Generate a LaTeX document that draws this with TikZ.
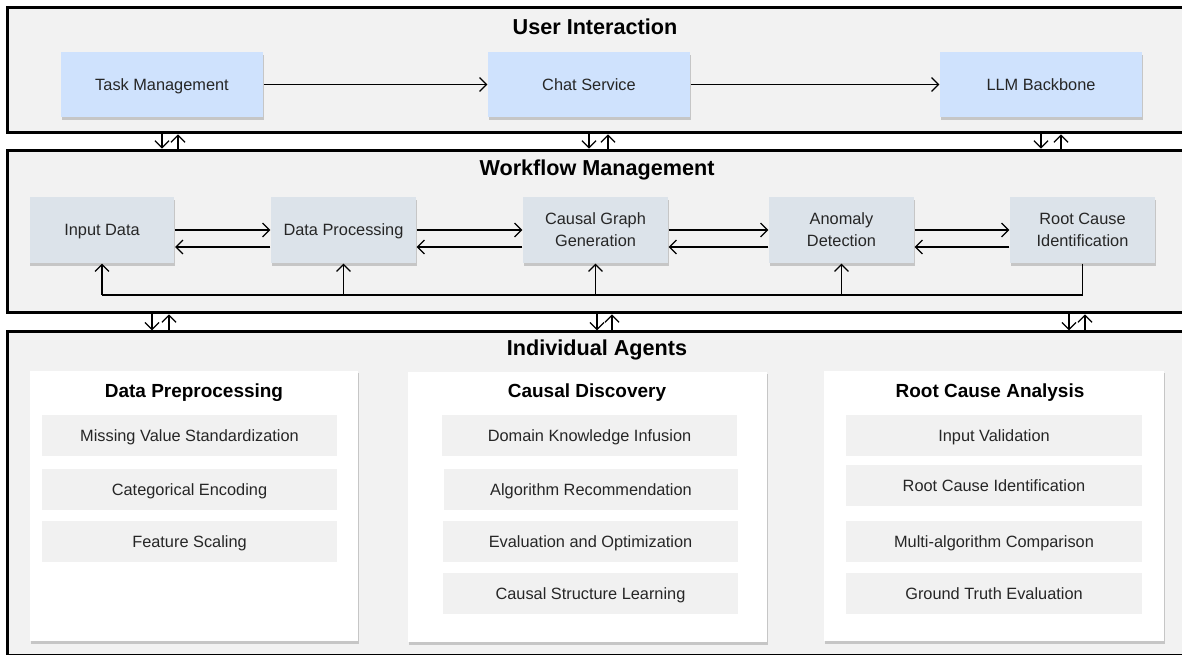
\documentclass[tikz,border=0pt]{standalone}
\usepackage{fontspec}
\setmainfont{Liberation Sans}
\usetikzlibrary{arrows.meta,shadows,calc}

\definecolor{framegray}{HTML}{F2F2F2}
\definecolor{userblue}{HTML}{CFE2FD}
\definecolor{flowgray}{HTML}{DCE3EA}
\definecolor{itemgray}{HTML}{F1F1F1}
\definecolor{textgray}{HTML}{262626}

\tikzset{
  layer/.style={draw=black, line width=1.7pt, fill=framegray, inner sep=0pt},
  boxshadow/.style={drop shadow={shadow xshift=0.3pt, shadow yshift=-1.6pt, fill=black, opacity=0.18}},
  oneline/.style={text height=6.6pt, text depth=0pt},
  usertask/.style={boxshadow, oneline, fill=userblue, minimum width=4.04cm, minimum height=1.3cm,
    font=\fontsize{9.3}{11}\selectfont, text=textgray},
  flowstep/.style={boxshadow, fill=flowgray, minimum width=2.9cm, minimum height=1.32cm,
    align=center, font=\fontsize{9.3}{12.5}\selectfont, text=textgray},
  panel/.style={boxshadow, fill=white, minimum height=5.42cm},
  item/.style={oneline, fill=itemgray, minimum width=5.9cm, minimum height=0.82cm,
    font=\fontsize{9.3}{11}\selectfont, text=textgray},
  title/.style={font=\fontsize{12.3}{14}\selectfont\bfseries},
  subtitle/.style={font=\fontsize{10.8}{13}\selectfont\bfseries}
}

\begin{document}
\begin{tikzpicture}[x=0.02cm, y=-0.02cm, line width=0.7pt, >={Straight Barb[length=1.4mm,width=2.8mm]}]
\useasboundingbox (0,0) rectangle (1182,655);

% layers
\node (ui) at (601,70)    [layer, minimum width=23.76cm, minimum height=2.52cm] {};
\node (wf) at (601,231.5) [layer, minimum width=23.76cm, minimum height=3.26cm] {};
\node (ia) at (601,493.8) [layer, minimum width=23.76cm, minimum height=6.48cm] {};

\node (uititle) at (595,27)  [title] {User Interaction};
\node (wftitle) at (597,170) [title] {Workflow Management};
\node (iatitle) at (597,350) [title] {Individual Agents};

% user interaction
\node  (tm) at (162,84.5)  [usertask] {Task Management};
\node  (cs) at (589,84.5)  [usertask] {Chat Service};
\node (llm) at (1041,84.5) [usertask] {LLM Backbone};
\draw [->] (tm) -- (cs);
\draw [->] (cs) -- (llm);

% workflow management
\node  (id) at (102,230)    [flowstep, oneline] {Input Data};
\node  (dp) at (343.5,230)  [flowstep, oneline] {Data Processing};
\node (cgg) at (595.5,230)  [flowstep] {Causal Graph\\Generation};
\node  (ad) at (841.5,230)  [flowstep] {Anomaly\\Detection};
\node (rci) at (1082.5,230) [flowstep] {Root Cause\\Identification};
\draw [->] (id) -- (dp);
\draw [->] (dp) -- (cgg);
\draw [->] (cgg) -- (ad);
\draw [->] (ad) -- (rci);
\draw [->] ([yshift=-0.34cm]dp.west)  -- ([yshift=-0.34cm]id.east);
\draw [->] ([yshift=-0.34cm]cgg.west) -- ([yshift=-0.34cm]dp.east);
\draw [->] ([yshift=-0.34cm]ad.west)  -- ([yshift=-0.34cm]cgg.east);
\draw [->] ([yshift=-0.34cm]rci.west) -- ([yshift=-0.34cm]ad.east);

\coordinate (bus) at (0,295);
\draw (rci.south) |- (id.south |- bus);
\draw [->] (id.south |- bus)  -- (id.south);
\draw [->] (dp.south |- bus)  -- (dp.south);
\draw [->] (cgg.south |- bus) -- (cgg.south);
\draw [->] (ad.south |- bus)  -- (ad.south);

% links between layers
\draw [->] (tm |- ui.south)  -- (tm |- wf.north);
\draw [->] (cs |- ui.south)  -- (cs |- wf.north);
\draw [->] (llm |- ui.south) -- (llm |- wf.north);
\draw [->] ($(tm |- wf.north)+(0.32cm,0)$)  -- ($(tm |- ui.south)+(0.32cm,0)$);
\draw [->] ($(cs |- wf.north)+(0.38cm,0)$)  -- ($(cs |- ui.south)+(0.38cm,0)$);
\draw [->] ($(llm |- wf.north)+(0.4cm,0)$)  -- ($(llm |- ui.south)+(0.4cm,0)$);

\coordinate (down1) at (152,0);
\coordinate (down2) at (597,0);
\coordinate (down3) at (1069,0);
\draw [->] (down1 |- wf.south) -- (down1 |- ia.north);
\draw [->] (down2 |- wf.south) -- (down2 |- ia.north);
\draw [->] (down3 |- wf.south) -- (down3 |- ia.north);
\draw [->] ($(down1 |- ia.north)+(0.34cm,0)$) -- ($(down1 |- wf.south)+(0.34cm,0)$);
\draw [->] ($(down2 |- ia.north)+(0.3cm,0)$)  -- ($(down2 |- wf.south)+(0.3cm,0)$);
\draw [->] ($(down3 |- ia.north)+(0.32cm,0)$) -- ($(down3 |- wf.south)+(0.32cm,0)$);

% individual agents
\node (dppanel)  at (194,506)   [panel, minimum width=6.56cm] {};
\node (cdpanel)  at (587.5,507) [panel, minimum width=7.18cm] {};
\node (rcapanel) at (994,506)   [panel, minimum width=6.8cm] {};

\node (dptitle)  at (194,393) [subtitle] {Data Preprocessing};
\node (cdtitle)  at (587,393) [subtitle] {Causal Discovery};
\node (rcatitle) at (990,393) [subtitle] {Root Cause Analysis};

\node (mvs) at (189.5,435.5) [item] {Missing Value Standardization};
\node (ce)  at (189.5,489.5) [item] {Categorical Encoding};
\node (fs)  at (189.5,541.5) [item] {Feature Scaling};

\node (dki) at (589.5,435.5) [item] {Domain Knowledge Infusion};
\node (ar)  at (591,489.5)   [item] {Algorithm Recommendation};
\node (eo)  at (590.5,541.5) [item] {Evaluation and Optimization};
\node (csl) at (590.5,593.5) [item] {Causal Structure Learning};

\node (iv)   at (994,435.5) [item, minimum width=5.92cm] {Input Validation};
\node (rcid) at (994,485.5) [item, minimum width=5.92cm] {Root Cause Identification};
\node (mac)  at (994,541.5) [item, minimum width=5.92cm] {Multi-algorithm Comparison};
\node (gte)  at (994,593.5) [item, minimum width=5.92cm] {Ground Truth Evaluation};
\end{tikzpicture}
\end{document}
